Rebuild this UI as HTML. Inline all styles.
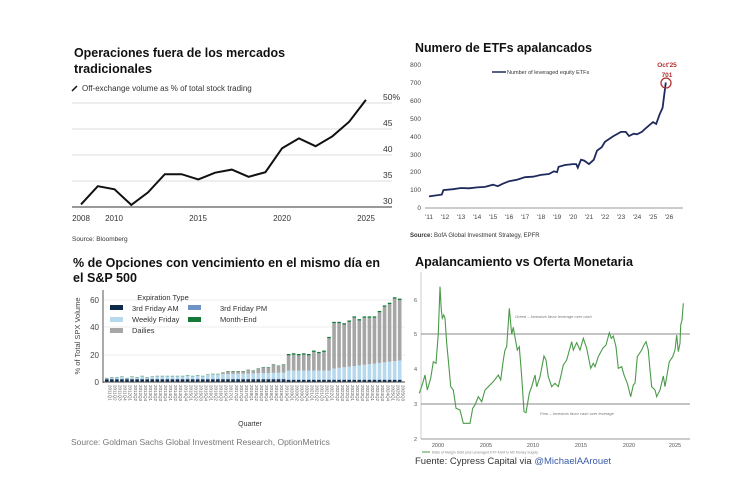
<!DOCTYPE html>
<html><head><meta charset="utf-8"><style>
html,body{margin:0;padding:0;background:#fff;}
svg{display:block;font-family:"Liberation Sans",Arial,sans-serif;}
</style></head><body>
<svg id="s" width="731" height="477" viewBox="0 0 731 477" xmlns="http://www.w3.org/2000/svg">
<rect width="731" height="477" fill="#fff"/>
<!-- Chart 1 -->
<text x="74" y="57" font-size="13" font-weight="bold" fill="#111" textLength="211" lengthAdjust="spacingAndGlyphs">Operaciones fuera de los mercados</text>
<text x="74" y="73" font-size="13" font-weight="bold" fill="#111" textLength="78" lengthAdjust="spacingAndGlyphs">tradicionales</text>
<line x1="72" y1="91" x2="77" y2="86" stroke="#111" stroke-width="1.5"/>
<text x="82" y="91" font-size="8" fill="#333">Off-exchange volume as % of total stock trading</text>
<g stroke="#ddd" stroke-width="1">
<line x1="72" y1="103" x2="392" y2="103"/><line x1="72" y1="129" x2="392" y2="129"/>
<line x1="72" y1="155" x2="392" y2="155"/><line x1="72" y1="181" x2="392" y2="181"/>
</g>
<line x1="72" y1="207" x2="392" y2="207" stroke="#333" stroke-width="1"/>
<g font-size="8.5" fill="#333">
<text x="383" y="100">50%</text><text x="383" y="126">45</text><text x="383" y="152">40</text><text x="383" y="178">35</text><text x="383" y="204">30</text>
</g>
<g font-size="8" fill="#333" text-anchor="middle">
<text x="81" y="221">2008</text><text x="114" y="221">2010</text><text x="198" y="221">2015</text><text x="282" y="221">2020</text><text x="366" y="221">2025</text>
</g>
<path id="p1" fill="none" stroke="#111" stroke-width="2"/>
<text x="72" y="241" font-size="6.5" fill="#333">Source: Bloomberg</text>

<!-- Chart 2 -->
<text x="415" y="52" font-size="13" font-weight="bold" fill="#111" textLength="177" lengthAdjust="spacingAndGlyphs">Numero de ETFs apalancados</text>
<g font-size="6.5" fill="#444" text-anchor="end">
<text x="421" y="67">800</text><text x="421" y="85">700</text><text x="421" y="103">600</text><text x="421" y="121">500</text><text x="421" y="139">400</text><text x="421" y="157">300</text><text x="421" y="174">200</text><text x="421" y="192">100</text><text x="421" y="210">0</text>
</g>
<line x1="425" y1="208" x2="683" y2="208" stroke="#999" stroke-width="1"/>
<g id="x2" font-size="6.5" fill="#444" text-anchor="middle"></g>
<line x1="492" y1="72" x2="506" y2="72" stroke="#1f2a5c" stroke-width="1.5"/>
<text x="507" y="74" font-size="5.5" fill="#333">Number of leveraged equity ETFs</text>
<path id="p2" fill="none" stroke="#1f2a5c" stroke-width="1.8"/>
<circle cx="666" cy="83" r="5" fill="none" stroke="#b03030" stroke-width="1.3"/>
<text x="667" y="67" font-size="6.5" fill="#b03030" font-weight="bold" text-anchor="middle">Oct'25</text>
<text x="667" y="77" font-size="6.5" fill="#b03030" font-weight="bold" text-anchor="middle">701</text>
<text x="410" y="237" font-size="6" fill="#333"><tspan font-weight="bold">Source:</tspan> BofA Global Investment Strategy, EPFR</text>

<!-- Chart 3 -->
<text x="73" y="267" font-size="13" font-weight="bold" fill="#111" textLength="307" lengthAdjust="spacingAndGlyphs">% de Opciones con vencimiento en el mismo día en</text>
<text x="73" y="282" font-size="13" font-weight="bold" fill="#111" textLength="64" lengthAdjust="spacingAndGlyphs">el S&amp;P 500</text>
<g stroke="#eee"><line x1="104" y1="300" x2="405" y2="300"/><line x1="104" y1="327" x2="405" y2="327"/><line x1="104" y1="355" x2="405" y2="355"/></g>
<line x1="103" y1="290" x2="103" y2="383" stroke="#555"/>
<g font-size="8" fill="#444" text-anchor="end">
<text x="99" y="303">60</text><text x="99" y="330">40</text><text x="99" y="358">20</text><text x="99" y="385">0</text>
</g>
<text transform="translate(80,336) rotate(-90)" font-size="7.5" fill="#444" text-anchor="middle">% of Total SPX Volume</text>
<g id="bars"></g>
<g id="xl3"></g>
<line x1="103" y1="382" x2="405" y2="382" stroke="#444"/>
<text x="163" y="300" font-size="7.5" fill="#333" text-anchor="middle">Expiration Type</text>
<g font-size="7.5" fill="#333">
<rect x="110" y="305" width="13" height="5" fill="#0d2a4a"/><text x="132" y="311">3rd Friday AM</text>
<rect x="110" y="317" width="13" height="5" fill="#b7d9ee"/><text x="132" y="322">Weekly Friday</text>
<rect x="110" y="328" width="13" height="5" fill="#a6a6a6"/><text x="132" y="333">Dailies</text>
<rect x="188" y="305" width="13" height="5" fill="#6f93c4"/><text x="220" y="311">3rd Friday PM</text>
<rect x="188" y="317" width="13" height="5" fill="#137a3a"/><text x="220" y="322">Month-End</text>
</g>
<text x="250" y="426" font-size="7" fill="#333" text-anchor="middle">Quarter</text>
<text x="71" y="445" font-size="8.5" fill="#777">Source: Goldman Sachs Global Investment Research, OptionMetrics</text>

<!-- Chart 4 -->
<text x="415" y="266" font-size="13" font-weight="bold" fill="#111" textLength="218" lengthAdjust="spacingAndGlyphs">Apalancamiento vs Oferta Monetaria</text>
<line x1="421" y1="272" x2="421" y2="439" stroke="#ccc"/>
<line x1="421" y1="439" x2="690" y2="439" stroke="#999"/>
<line x1="421" y1="334" x2="690" y2="334" stroke="#888" stroke-width="1"/>
<line x1="421" y1="404" x2="690" y2="404" stroke="#888" stroke-width="1"/>
<g font-size="5.5" fill="#555" text-anchor="end">
<text x="417" y="302">6</text><text x="417" y="336">5</text><text x="417" y="371">4</text><text x="417" y="406">3</text><text x="417" y="441">2</text>
</g>
<g font-size="5.5" fill="#555" text-anchor="middle">
<text x="438" y="447">2000</text><text x="486" y="447">2005</text><text x="533" y="447">2010</text><text x="581" y="447">2015</text><text x="629" y="447">2020</text><text x="675" y="447">2025</text>
</g>
<text x="515" y="318" font-size="4" font-style="italic" fill="#777">Greed – Investors favor leverage over cash</text>
<text x="540" y="415" font-size="4" font-style="italic" fill="#777">Fear – Investors favor cash over leverage</text>
<line x1="422" y1="452" x2="430" y2="452" stroke="#4a9a4a"/>
<text x="432" y="453.5" font-size="3.5" fill="#888">Ratio of Margin Debt plus Leveraged ETF AUM to M2 Money Supply</text>
<path id="p4" fill="none" stroke="#4a9a4a" stroke-width="1.1"/>
<text x="415" y="464" font-size="9.5" fill="#333">Fuente: Cypress Capital via <tspan fill="#3a5ca8">@MichaelAArouet</tspan></text>
</svg>
<script>
var NS="http://www.w3.org/2000/svg";
function P(a){return a.map(function(p,i){return (i?"L":"M")+p[0].toFixed(1)+" "+p[1].toFixed(1)}).join(" ");}
var v1=[30.5,34,33.4,30.4,32.8,36.3,36.3,35.3,36.6,37.2,35.8,36.7,41.3,43.2,41.7,43.6,46.4,50.6];
document.getElementById("p1").setAttribute("d",P(v1.map(function(v,i){return [81+i*16.76,207-(v-30)*5.2]})));
var d2=[[2011,65],[2011.8,75],[2011.9,100],[2012.5,105],[2013,112],[2013.5,110],[2014,115],[2014.5,118],[2015,130],[2015.3,122],[2015.6,135],[2016,150],[2016.5,158],[2017,172],[2017.5,175],[2018,185],[2018.5,190],[2018.8,205],[2019,200],[2019.1,230],[2019.5,240],[2020,245],[2020.2,245],[2020.3,225],[2020.5,270],[2020.7,265],[2021,245],[2021.3,270],[2021.5,320],[2021.8,340],[2022,370],[2022.5,400],[2023,425],[2023.3,425],[2023.5,402],[2023.8,415],[2024,412],[2024.3,425],[2024.6,450],[2025,480],[2025.2,470],[2025.4,520],[2025.6,560],[2025.8,701]];
document.getElementById("p2").setAttribute("d",P(d2.map(function(p){return [429+(p[0]-2011)*16,208-p[1]*0.179]})));
var g2=document.getElementById("x2");
for(var y=11;y<=26;y++){var t=document.createElementNS(NS,"text");t.setAttribute("x",429+(y-11)*16);t.setAttribute("y",219);t.textContent="'"+y;g2.appendChild(t);}
var tot=[3,3.5,3.5,4,3,4,3.5,4.5,3.5,4,4.5,4.5,4.5,4.5,4.5,4.5,5,4.5,5,4.5,5.5,6,6,7,8,8,8,8,9,8.5,10,11,11,13,12,13,20.5,21,20.5,21,20.5,23,22,23,33,44,44,43,45,48,46,48,48,48,52,56,58,62,61];
var bars=document.getElementById("bars"),xl=document.getElementById("xl3"),k=1.367;
function R(x,y,w,h,c){var r=document.createElementNS(NS,"rect");r.setAttribute("x",x);r.setAttribute("y",y);r.setAttribute("width",w);r.setAttribute("height",Math.max(h,0));r.setAttribute("fill",c);bars.appendChild(r);}
for(var i=0;i<tot.length;i++){
 var x=105+i*5.05,T=tot[i];
 var am=i<36?2:1.5, pm=0.4, me=i>=36?1:0.3;
 var wk=i<36?Math.min(1+i*0.1,5):(i<45?6.5:8+(i-45)*0.45);
 if(wk>T-am-pm-me)wk=T-am-pm-me;
 var dl=T-am-pm-me-wk; if(dl<0)dl=0;
 var y0=382,segs=[[am,"#0d2a4a"],[pm,"#6f93c4"],[wk,"#b7d9ee"],[dl,"#a6a6a6"],[me,"#137a3a"]];
 segs.forEach(function(s){var h=s[0]*k;y0-=h;R(x,y0,3.6,h,s[1]);});
 var q=(i%4)+1,yr=2011+Math.floor(i/4);
 var t=document.createElementNS(NS,"text");t.setAttribute("transform","translate("+(x+3.5)+",385) rotate(90)");t.setAttribute("font-size","4.5");t.setAttribute("fill","#555");t.textContent=yr+"Q"+q;xl.appendChild(t);
}
var z=[[58,430],[68,400],[75,375],[82,420],[92,385],[100,335],[108,340],[115,250],[120,110],[124,180],[127,205],[131,195],[135,205],[140,280],[145,330],[152,410],[160,420],[168,475],[180,480],[190,520],[210,520],[218,475],[225,465],[235,440],[245,455],[255,420],[265,410],[280,395],[295,375],[302,390],[310,330],[315,300],[320,290],[328,175],[335,253],[340,232],[345,262],[352,300],[358,290],[365,380],[372,485],[378,488],[388,430],[395,410],[405,375],[410,410],[420,380],[432,318],[438,330],[445,380],[455,410],[465,400],[475,410],[482,380],[490,345],[500,330],[515,275],[520,300],[530,278],[540,300],[550,265],[560,295],[572,355],[580,340],[585,350],[595,320],[608,295],[618,285],[628,248],[634,265],[640,258],[648,290],[655,355],[665,350],[672,375],[682,400],[692,440],[700,405],[705,400],[712,320],[725,300],[732,285],[738,275],[745,300],[750,360],[755,410],[765,420],[770,440],[780,420],[790,378],[795,410],[808,335],[818,320],[825,300],[830,255],[835,305],[840,280],[842,225],[846,210],[850,160]];
document.getElementById("p4").setAttribute("d",P(z.map(function(p){return [400+p[0]/3,250+p[1]/3]})));
</script>
</body></html>
